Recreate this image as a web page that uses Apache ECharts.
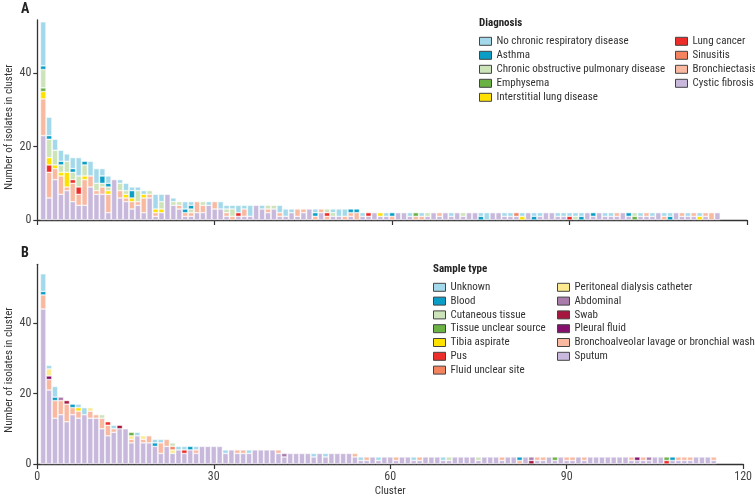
<!DOCTYPE html>
<html><head><meta charset="utf-8">
<script src="https://cdn.jsdelivr.net/npm/echarts@6/dist/echarts.min.js"></script>
<style>html,body{margin:0;padding:0;background:#fff}#c{width:755px;height:498px}</style>
</head><body><div id="c"></div>
<script>
// x tick labels
const xTicks = ['0','30','60','90','120'];
const yTicks = [0,20,40];
// ---------- Panel A: diagnosis (cluster 1..115) ----------
const A_CF = [23,6,11,7,8,5,4,4,9,7, 7,2,11,6,5,3,4,2,6,1, 2,7,4,3,1,1,2,2,4,3, 3,1,0,1,1,1,4,3,2,3, 1,1,2,1,2,3,0,2,0,1, 1,0,1,0,1,1,2,1,1,0, 2,2,1,0,0,1,2,1,2,1, 2,1,2,2,0,0,2,2,1,1, 1,0,2,0,1,2,2,1,1,0, 0,0,2,1,2,1,1,1,2,1, 0,1,1,1,2,0,0,2,1,1, 1,0,1,0,2];
const A_Bronch = [10,7,3,5,1,5,3,7,3,1, 2,5,0,2,1,2,1,4,1,1, 0,0,0,1,1,1,3,2,0,2, 0,1,1,0,2,0,0,0,1,0, 1,0,0,2,1,0,1,1,1,0, 0,1,1,2,0,0,0,0,0,1, 0,0,0,1,1,0,0,1,0,0, 0,0,0,0,0,0,0,0,0,0, 0,0,0,0,0,0,0,0,0,0, 0,0,0,0,0,0,0,1,0,0, 0,0,1,0,0,1,0,0,1,0, 1,0,1,2,0];
const A_Sinus = [0,0,0,0,0,0,0,0,0,0, 0,0,0,0,0,0,0,0,0,0, 0,0,0,0,0,0,0,0,0,0, 0,0,0,0,0,0,0,0,0,0, 0,0,0,0,0,0,0,0,0,0, 0,0,0,0,0,0,0,0,0,0, 0,0,0,0,0,0,0,0,0,0, 0,0,0,0,0,0,0,0,0,0, 1,0,0,0,0,0,0,0,0,0, 0,0,0,0,0,0,0,0,0,0, 0,0,0,0,0,0,0,0,0,0, 0,0,0,0,0];
const A_LungCa = [0,2,0,0,0,1,2,0,0,0, 0,0,0,0,0,0,0,0,0,0, 0,0,0,0,0,0,0,0,0,0, 0,0,0,1,0,0,0,0,0,0, 0,0,0,0,0,0,0,0,1,0, 0,0,0,0,0,1,0,0,0,0, 0,0,0,0,0,0,0,0,0,0, 0,0,0,0,0,0,0,0,0,0, 0,0,0,0,0,0,0,0,0,1, 0,0,0,0,0,0,0,0,0,0, 0,0,0,0,0,0,0,0,0,0, 0,0,0,0,0];
const A_ILD = [2,2,1,1,4,0,0,1,0,0, 0,1,0,0,1,1,0,1,0,1, 1,0,0,0,0,0,0,0,0,0, 0,0,0,0,0,0,0,0,0,0, 0,0,0,0,0,0,0,0,0,0, 0,0,0,0,0,0,0,1,0,0, 0,0,0,0,0,0,0,0,0,0, 0,0,0,0,0,0,0,0,0,0, 0,1,0,0,0,0,0,0,0,0, 0,0,0,0,0,0,0,0,0,0, 0,0,0,0,0,0,0,0,0,0, 0,1,0,0,0];
const A_Emph = [1,0,0,0,0,0,0,0,0,0, 0,0,0,0,0,0,0,0,0,0, 0,0,0,0,0,0,0,0,0,0, 0,0,0,0,0,0,0,0,0,0, 0,0,0,0,0,0,0,0,0,0, 0,0,0,0,0,0,0,0,0,0, 0,0,0,1,0,0,0,0,0,0, 0,0,0,0,0,0,0,0,0,0, 0,0,0,0,0,0,0,0,0,0, 0,0,0,0,0,0,0,0,0,0, 1,0,0,0,0,0,0,0,0,0, 0,0,0,0,0];
const A_COPD = [5,5,4,2,3,2,3,3,0,2, 1,1,0,2,1,0,3,0,1,0, 2,0,1,1,0,1,0,1,0,0, 0,1,2,0,0,0,0,0,1,1, 0,0,0,0,0,0,0,0,1,1, 0,0,0,0,0,0,0,0,0,0, 0,0,0,0,0,1,0,0,0,0, 0,1,0,0,0,0,0,0,0,0, 0,0,0,0,0,0,0,0,0,0, 1,0,0,0,0,0,0,0,0,0, 1,0,0,0,0,0,0,0,0,0, 0,0,0,0,0];
const A_Asthma = [1,1,0,1,0,1,0,1,0,0, 2,1,0,0,0,2,0,0,0,0, 0,0,0,0,1,1,0,0,0,0, 0,0,0,0,0,0,0,0,0,0, 0,0,0,0,0,0,1,0,0,0, 0,0,1,1,0,0,0,0,0,1, 0,0,0,0,0,0,0,0,0,0, 0,0,0,0,1,0,0,0,0,0, 0,0,0,1,0,0,0,0,0,0, 0,1,0,1,0,0,0,0,0,1, 0,0,0,0,0,0,1,0,0,0, 0,0,0,0,0];
const A_None = [12,5,3,3,2,3,5,0,4,4, 2,2,0,1,2,1,1,1,0,4, 2,0,1,0,2,1,0,0,1,0, 2,1,1,2,1,3,0,1,0,0, 2,2,1,0,0,0,1,0,0,1, 2,2,0,0,1,0,0,0,1,0, 0,0,1,0,1,0,0,0,0,1, 0,0,0,0,1,2,0,0,1,1, 0,1,0,1,1,0,0,1,1,1, 1,1,0,0,0,1,1,0,0,0, 0,1,0,1,0,1,1,0,0,1, 0,1,0,0,0];
// ---------- Panel B: sample type ----------
const B_Sputum = [44,21,13,14,12,14,13,14,13,13, 10,8,9,10,10,6,8,6,6,5, 3,5,3,4,3,4,3,5,5,5, 5,3,4,3,3,3,4,4,4,4, 3,2,3,3,3,3,2,3,2,3, 3,3,3,2,1,1,2,1,2,2, 1,2,2,1,1,2,2,2,1,1, 2,2,2,2,1,2,2,2,1,2, 2,0,2,0,1,1,2,1,2,1, 1,2,1,2,2,2,2,2,2,2, 1,1,1,1,2,2,0,1,1,1, 1,2,2,2,1];
const B_BAL = [4,3,5,4,5,2,2,0,2,1, 3,3,1,0,0,1,0,1,2,0, 3,2,0,0,0,0,1,0,0,0, 0,0,0,1,1,0,0,0,0,0, 1,0,0,0,0,0,0,0,0,0, 0,0,0,1,0,1,0,0,0,0, 1,0,0,0,1,0,0,0,0,0, 0,0,0,0,0,0,0,0,1,0, 0,1,0,0,1,1,0,0,0,1, 1,0,1,0,0,0,0,0,0,0, 1,0,1,0,0,0,0,0,1,1, 1,0,0,0,1];
const B_Pleural = [0,1,0,0,0,0,0,0,0,0, 0,0,0,0,0,0,0,0,0,0, 0,0,0,0,0,0,0,0,0,0, 0,0,0,0,0,0,0,0,0,0, 0,0,0,0,0,0,0,0,0,0, 0,0,0,0,0,0,0,0,0,0, 0,0,0,0,0,0,0,0,0,0, 0,0,0,0,0,0,0,0,0,0, 0,0,0,0,0,0,0,0,0,0, 0,0,0,0,0,0,0,0,0,0, 0,1,0,0,0,0,0,0,0,0, 0,0,0,0,0];
const B_Swab = [0,0,0,0,1,0,0,0,0,0, 0,0,0,1,0,0,0,0,0,0, 0,0,0,0,0,0,0,0,0,0, 0,0,0,0,0,0,0,0,0,0, 0,0,0,0,0,0,0,0,0,0, 0,0,0,0,0,0,0,0,0,0, 0,0,0,0,0,0,0,0,0,0, 0,0,0,0,0,0,0,0,0,0, 0,0,0,1,0,0,0,0,0,0, 0,0,0,0,0,0,0,0,0,0, 0,0,0,0,0,0,0,0,0,0, 0,0,0,0,0];
const B_Abdominal = [0,0,0,1,0,0,0,0,0,0, 0,0,0,0,0,0,0,0,0,0, 0,0,0,0,0,0,0,0,0,0, 0,0,0,0,0,0,0,0,0,0, 0,1,0,0,0,0,0,0,0,0, 0,0,0,0,0,0,0,0,0,0, 0,0,0,0,0,0,0,0,0,0, 0,0,0,0,0,0,0,0,0,0, 0,0,0,1,0,0,0,0,0,0, 0,0,0,0,0,0,0,0,0,0, 0,0,0,1,0,0,0,0,0,0, 0,0,0,0,0];
const B_Peritoneal = [0,2,0,0,0,0,0,0,1,0, 0,0,0,0,0,1,0,1,0,0, 0,0,1,0,0,0,0,0,0,0, 0,0,0,0,0,0,0,0,0,0, 0,0,0,0,0,0,0,0,0,0, 0,0,0,0,0,0,0,0,0,0, 0,0,0,0,0,0,0,0,0,0, 0,0,0,0,0,0,0,0,0,0, 0,0,0,0,0,0,0,0,0,0, 0,0,0,0,0,0,0,0,0,0, 0,0,0,0,0,0,0,0,0,0, 0,0,0,0,0];
const B_FluidUnclear = [0,0,0,0,0,0,0,0,0,0, 0,0,0,0,0,0,0,0,0,0, 0,0,1,0,0,0,0,0,0,0, 0,0,0,0,0,0,0,0,0,0, 0,0,0,0,0,0,0,0,0,0, 0,0,0,0,0,0,0,0,0,0, 0,0,0,0,0,0,0,0,0,0, 0,0,0,0,0,0,0,0,0,0, 0,0,0,0,0,0,0,0,0,0, 0,0,0,0,0,0,0,0,0,0, 0,0,0,0,0,0,0,0,0,0, 0,0,0,0,0];
const B_Pus = [0,0,0,0,0,0,0,0,0,0, 0,1,0,0,0,0,0,0,0,0, 0,0,0,0,1,0,0,0,0,0, 0,0,0,0,0,0,0,0,0,0, 0,0,0,0,0,0,0,0,0,0, 0,0,0,0,0,0,0,0,0,0, 0,0,0,0,0,0,0,0,0,0, 0,0,0,0,0,0,0,0,0,0, 0,0,0,0,0,0,0,0,0,0, 0,0,0,0,0,0,0,0,0,0, 0,0,0,0,0,0,1,0,0,0, 0,0,0,0,0];
const B_Tibia = [0,0,0,0,0,0,1,0,0,0, 0,0,0,0,0,0,0,0,0,0, 0,0,0,0,0,0,0,0,0,0, 0,0,0,0,0,0,0,0,0,0, 0,0,0,0,0,0,0,0,0,0, 0,0,0,0,0,0,0,0,0,0, 0,0,0,0,0,0,0,0,0,0, 0,0,0,0,0,0,0,0,0,0, 0,0,0,0,0,0,0,0,0,0, 0,0,0,0,0,0,0,0,0,0, 0,0,0,0,0,0,0,0,0,0, 0,0,0,0,0];
const B_Tissue = [0,0,0,0,0,0,0,0,0,0, 0,0,0,0,0,1,0,0,0,0, 0,0,0,0,0,0,0,0,0,0, 0,0,0,0,0,0,0,0,0,0, 0,0,0,0,0,0,0,0,0,0, 0,0,0,0,0,0,0,0,0,0, 0,0,0,0,0,0,0,0,0,0, 0,0,0,0,0,0,0,0,0,0, 0,0,0,0,0,0,0,1,0,0, 0,0,0,0,0,0,0,0,0,0, 0,0,0,0,0,0,1,0,0,0, 0,0,0,0,0];
const B_Cutaneous = [0,0,0,0,0,0,0,0,0,0, 1,0,0,0,0,0,0,0,0,0, 0,0,1,0,0,0,0,0,0,0, 0,0,0,0,0,0,0,0,0,0, 0,0,0,0,0,0,0,0,0,0, 0,0,0,0,0,0,0,0,0,0, 0,0,0,0,0,0,0,0,0,1, 0,0,0,0,1,0,0,0,0,0, 0,0,0,0,0,0,0,0,0,0, 0,0,0,0,0,0,0,0,0,0, 0,0,0,0,0,0,0,0,0,0, 0,0,0,0,0];
const B_Blood = [1,0,1,0,0,1,0,0,0,0, 0,0,0,0,0,0,0,0,0,1, 0,0,0,0,0,1,0,0,0,0, 0,0,0,0,0,0,0,0,0,0, 0,0,0,0,0,0,0,0,0,0, 0,0,0,0,0,0,0,0,0,0, 0,0,0,0,0,0,0,0,0,0, 0,0,0,0,0,0,0,0,0,0, 0,1,0,0,0,0,0,0,0,0, 0,0,0,0,0,0,0,0,0,0, 0,0,0,0,0,0,0,1,0,0, 0,0,0,0,0];
const B_Unknown = [5,1,3,0,0,0,1,2,0,0, 0,0,1,0,0,0,1,0,0,1, 1,0,0,1,1,0,1,0,0,0, 0,1,0,0,0,1,0,0,0,0, 0,0,0,0,0,0,1,0,1,0, 0,0,0,0,1,0,0,1,0,0, 0,0,0,1,0,0,0,0,1,0, 0,0,0,0,0,0,0,0,0,0, 0,0,0,0,0,0,0,0,0,0, 0,0,0,0,0,0,0,0,0,0, 0,0,0,0,0,0,0,0,0,0, 0,0,0,0,0];

// category positions 0..120 (clusters occupy 1..115)
const positions = Array.from({length: 121}, (_, i) => String(i));

const C = {
  lblue:'#a3d9ea', blue:'#0a9ec6', lgreen:'#cde3b9', green:'#6bb244', yellow:'#ffe100',
  red:'#ec2d29', coral:'#f3845f', salmon:'#f9b9a1', lav:'#c8b9dc',
  lyellow:'#fde98f', mauve:'#a97cac', crimson:'#a6173f', plum:'#84106c'
};

// stack order bottom -> top
const seriesA = [
  ['Cystic fibrosis', A_CF, C.lav],
  ['Bronchiectasis', A_Bronch, C.salmon],
  ['Sinusitis', A_Sinus, C.coral],
  ['Lung cancer', A_LungCa, C.red],
  ['Interstitial lung disease', A_ILD, C.yellow],
  ['Emphysema', A_Emph, C.green],
  ['Chronic obstructive pulmonary disease', A_COPD, C.lgreen],
  ['Asthma', A_Asthma, C.blue],
  ['No chronic respiratory disease', A_None, C.lblue]
];
const seriesB = [
  ['Sputum', B_Sputum, C.lav],
  ['Bronchoalveolar lavage or bronchial wash', B_BAL, C.salmon],
  ['Pleural fluid', B_Pleural, C.plum],
  ['Swab', B_Swab, C.crimson],
  ['Abdominal', B_Abdominal, C.mauve],
  ['Peritoneal dialysis catheter', B_Peritoneal, C.lyellow],
  ['Fluid unclear site', B_FluidUnclear, C.coral],
  ['Pus', B_Pus, C.red],
  ['Tibia aspirate', B_Tibia, C.yellow],
  ['Tissue unclear source', B_Tissue, C.green],
  ['Cutaneous tissue', B_Cutaneous, C.lgreen],
  ['Blood', B_Blood, C.blue],
  ['Unknown', B_Unknown, C.lblue]
];

const FONT = "'Liberation Sans Narrow', 'Roboto Condensed', 'DejaVu Sans Condensed', Lato, sans-serif";

function mk(list, stack, idx) {
  return list.map(([name, arr, color]) => ({
    type: 'bar', name, stack, xAxisIndex: idx, yAxisIndex: idx,
    barWidth: 5.5,
    data: positions.map((p, i) => (i >= 1 && i <= arr.length && arr[i - 1] > 0) ? arr[i - 1] : '-'),
    itemStyle: { color, borderColor: '#ffffff', borderWidth: 0.5 },
    emphasis: { disabled: true },
    silent: true
  }));
}

function xAx(idx, showLabels) {
  return {
    type: 'category', gridIndex: idx, data: positions, boundaryGap: false,
    axisLine: { lineStyle: { color: '#333', width: 1.3 } },
    axisTick: { show: true, interval: 29, length: 5, lineStyle: { color: '#333', width: 1.2 } },
    axisLabel: { show: showLabels, interval: 29, color: '#444', fontSize: 12, margin: 7, fontFamily: FONT },
    name: showLabels ? 'Cluster' : '', nameLocation: 'middle', nameGap: 22,
    nameTextStyle: { color: '#333', fontSize: 11, fontFamily: FONT },
    splitLine: { show: false }
  };
}
function yAx(idx, max) {
  return {
    type: 'value', gridIndex: idx, min: 0, max, interval: 20,
    axisLine: { show: true, lineStyle: { color: '#333', width: 1.3 } },
    axisTick: { show: true, length: 4, customValues: yTicks, lineStyle: { color: '#333', width: 1.2 } },
    axisLabel: { color: '#444', fontSize: 12, margin: 6, customValues: yTicks, fontFamily: FONT },
    splitLine: { show: false }
  };
}

const legendBase = {
  orient: 'vertical', padding: 0, itemGap: 0, itemWidth: 12, itemHeight: 8, icon: 'rect',
  selectedMode: false,
  itemStyle: { borderColor: '#444', borderWidth: 1 },
  textStyle: { color: '#333', fontSize: 11, lineHeight: 14, fontFamily: FONT }
};

const chart = echarts.init(document.getElementById('c'), null, { renderer: 'canvas' });
chart.setOption({
  animation: false,
  backgroundColor: '#fff',
  grid: [
    { left: 37.3, right: 8, top: 20, height: 200 },
    { left: 37.3, right: 8, top: 264.3, height: 200 }
  ],
  xAxis: [xAx(0, false), xAx(1, true)],
  yAxis: [yAx(0, 54.5), yAx(1, 56.7)],
  legend: [
    Object.assign({}, legendBase, { left: 479, top: 34.3,
      data: ['No chronic respiratory disease','Asthma','Chronic obstructive pulmonary disease','Emphysema','Interstitial lung disease'] }),
    Object.assign({}, legendBase, { left: 675, top: 34.3,
      data: ['Lung cancer','Sinusitis','Bronchiectasis','Cystic fibrosis'] }),
    Object.assign({}, legendBase, { left: 433, top: 280.4, textStyle: Object.assign({}, legendBase.textStyle, {lineHeight: 13.8}),
      data: ['Unknown','Blood','Cutaneous tissue','Tissue unclear source','Tibia aspirate','Pus','Fluid unclear site'] }),
    Object.assign({}, legendBase, { left: 557, top: 280.4, textStyle: Object.assign({}, legendBase.textStyle, {lineHeight: 13.8}),
      data: ['Peritoneal dialysis catheter','Abdominal','Swab','Pleural fluid','Bronchoalveolar lavage or bronchial wash','Sputum'] })
  ],
  graphic: [
    { type: 'text', left: 21, top: 2, style: { text: 'A', font: "bold 14px " + FONT, fill: '#222' } },
    { type: 'text', left: 21, top: 246, style: { text: 'B', font: "bold 14px " + FONT, fill: '#222' } },
    { type: 'text', left: 479, top: 18, style: { text: 'Diagnosis', font: "bold 11px " + FONT, fill: '#222' } },
    { type: 'text', left: 433, top: 264, style: { text: 'Sample type', font: "bold 11px " + FONT, fill: '#222' } },
    { type: 'text', x: 9, y: 127, rotation: Math.PI / 2,
      style: { text: 'Number of isolates in cluster', font: "11px " + FONT, fill: '#333', align: 'center', verticalAlign: 'middle' } },
    { type: 'text', x: 9, y: 370, rotation: Math.PI / 2,
      style: { text: 'Number of isolates in cluster', font: "11px " + FONT, fill: '#333', align: 'center', verticalAlign: 'middle' } }
  ],
  series: mk(seriesA, 'A', 0).concat(mk(seriesB, 'B', 1))
});
</script>
</body></html>
